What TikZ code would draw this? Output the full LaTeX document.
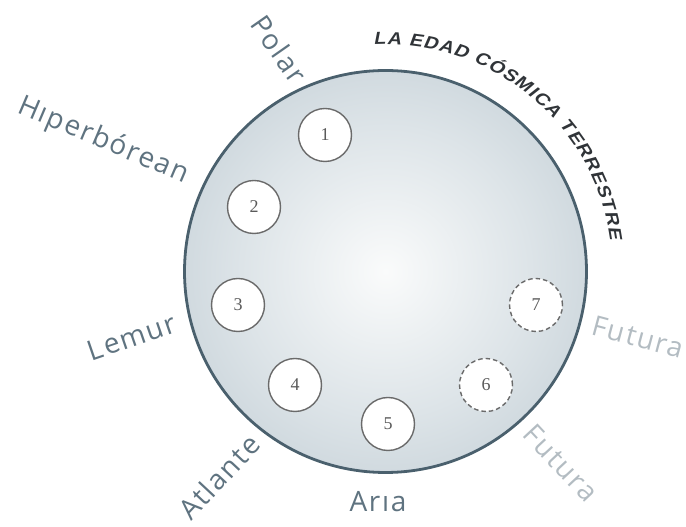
\documentclass[tikz,border=0pt]{standalone}
\usepackage{fontspec}
\usetikzlibrary{decorations.text}
\newfontfamily\labelfont[LetterSpace=6]{Open Sans}
\newfontfamily\numfont{Liberation Serif}
\newfontfamily\titlefont[FakeStretch=1.12,FakeSlant=0.22]{Liberation Sans Bold}
\definecolor{sphC}{HTML}{FAFBFB}
\definecolor{sphA}{HTML}{DDE4E8}
\definecolor{sphB}{HTML}{BAC7CF}
\definecolor{sphE}{HTML}{9CAFBB}
\definecolor{rimcol}{HTML}{4A606D}
\definecolor{labcol}{HTML}{5F7380}
\definecolor{futcol}{HTML}{B3BCC2}
\definecolor{agecol}{HTML}{6A6A6A}
\definecolor{numcol}{HTML}{5A5A5A}
\definecolor{titcol}{HTML}{303438}
\pgfdeclareradialshading{sphere}{\pgfpoint{0bp}{0bp}}{color(0bp)=(sphC); color(18bp)=(sphA); color(38bp)=(sphB); color(50bp)=(sphE)}
\begin{document}
\begin{tikzpicture}[x=1pt,y=1pt,
  age/.style={circle, draw=agecol, line width=1.4pt, fill=white, minimum size=53pt, inner sep=0pt, font=\numfont\fontsize{18}{18}\selectfont, text=numcol},
  futureage/.style={age, dash pattern=on 4.5pt off 3pt},
  lab/.style={font=\labelfont\fontsize{28}{30}\selectfont, text=labcol, inner sep=0pt},
  futlab/.style={lab, text=futcol}]
\useasboundingbox (0,0) rectangle (686,527);
\coordinate (C) at (385.5,255.5);
\shade[shading=sphere] (C) circle (201);
\draw[rimcol, line width=2.8pt] (C) circle (201);
\node[age] (a1) at (325,392) {1};
\node[age] (a2) at (254,320) {2};
\node[age] (a3) at (238,222) {3};
\node[age] (a4) at (295,142) {4};
\node[age] (a5) at (388,103) {5};
\node[futureage] (a6) at (486,142) {6};
\node[futureage] (a7) at (536,222) {7};
\path[decorate, decoration={text along path, text align=fit to path, text color=titcol,
  text={|\titlefont\fontsize{17.5}{17.5}\selectfont|LA EDAD CÓSMICA TERRESTRE}}]
  ([shift={(93:227)}]C) arc[start angle=93, end angle=8, radius=227];
\node[lab, rotate=-55] (polar) at (279,478) {Polar};
\node[lab, rotate=-23] (hiper) at (103,386) {Hıperbórean};
\node[lab, rotate=19] (lemur) at (132,190) {Lemur};
\node[lab, rotate=47] (atlante) at (219,50) {Atlante};
\node[lab] (aria) at (378,25) {Arıa};
\node[futlab, rotate=-15] (fut1) at (638,190) {Futura};
\node[futlab, rotate=-47] (fut2) at (561,64) {Futura};
\end{tikzpicture}
\end{document}
